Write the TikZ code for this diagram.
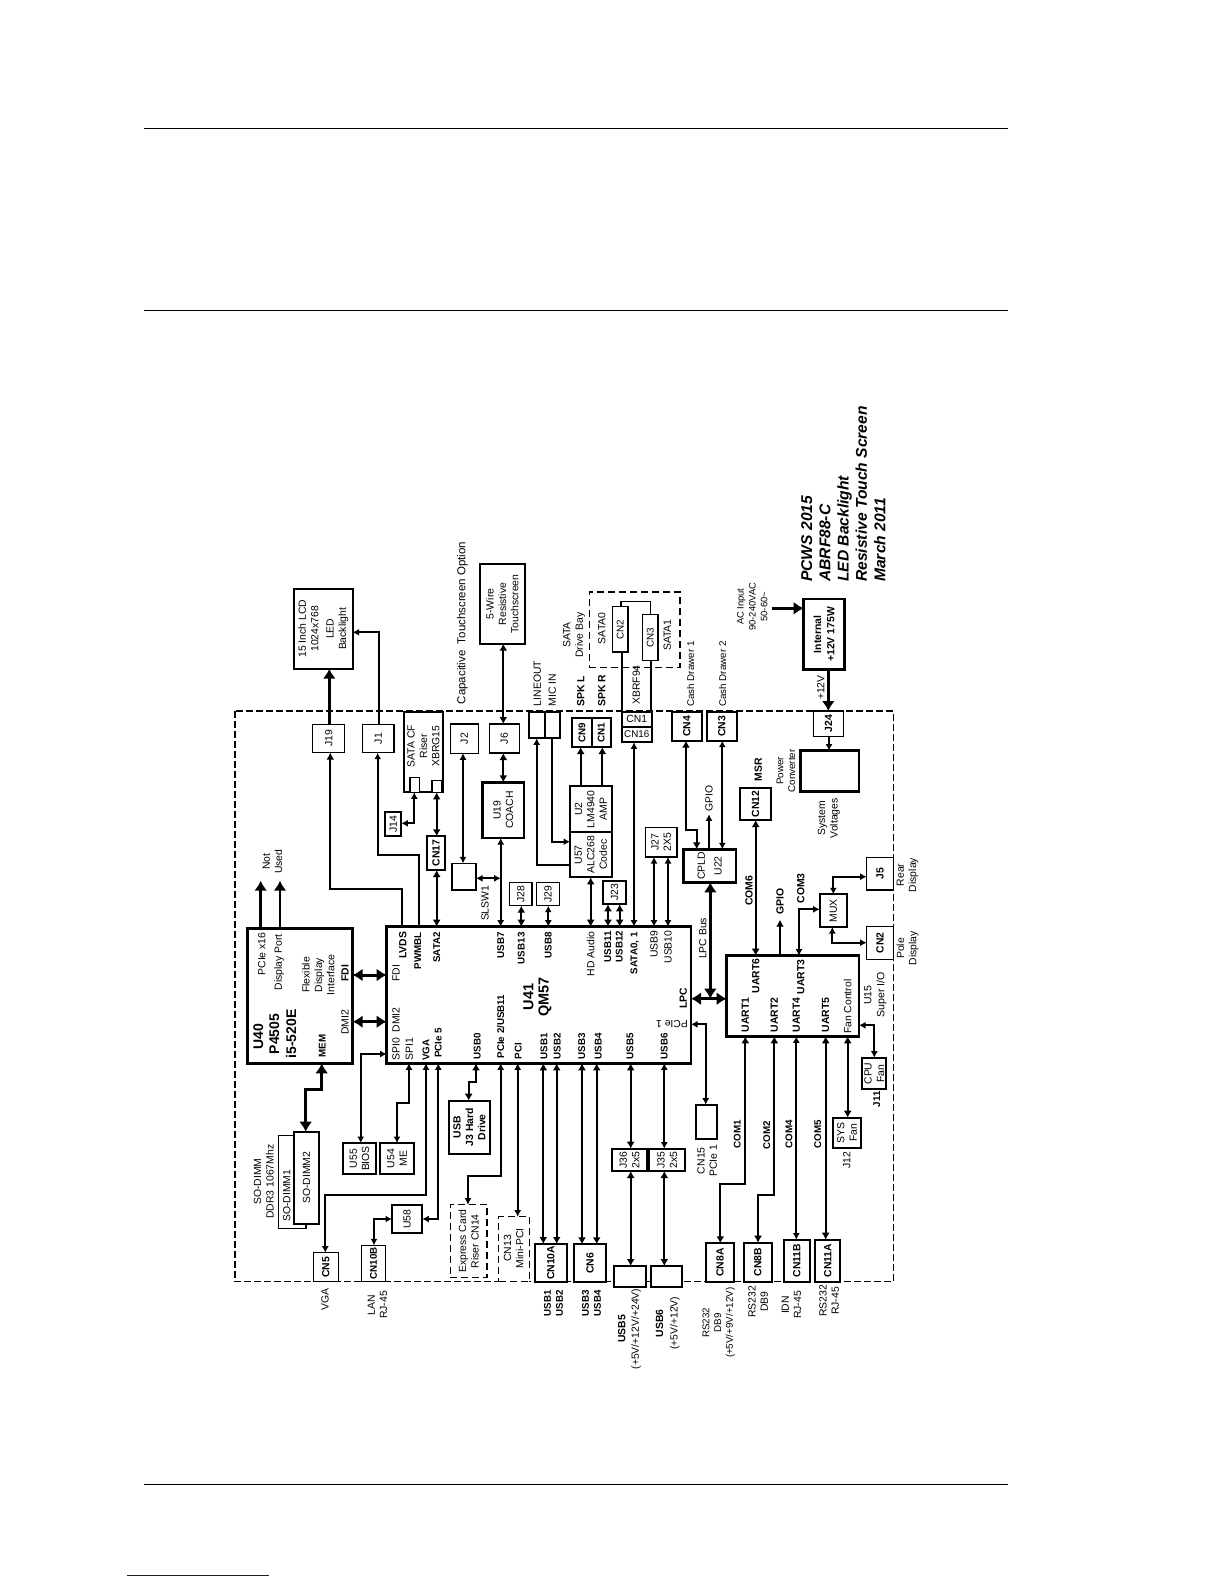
\documentclass[tikz,border=0pt]{standalone}
\usepackage{fontspec}
\setmainfont{Liberation Sans}
\usetikzlibrary{arrows.meta,calc}
\definecolor{navyline}{RGB}{20,20,110}
\tikzset{
 txt/.style={align=center,inner sep=0pt,outer sep=0pt,text=black},
 lbl/.style={txt,rotate=90},
 r10/.style={font=\fontsize{10.4}{12.4}\selectfont},
 r9/.style={font=\fontsize{9.8}{11.8}\selectfont},
 b10/.style={font=\fontsize{10.4}{12.4}\selectfont\bfseries},
 b9/.style={font=\fontsize{9.8}{11.8}\selectfont\bfseries},
 r11/.style={font=\fontsize{11.5}{15.5}\selectfont},
 big/.style={font=\fontsize{14}{16.3}\selectfont\bfseries},
 bxa/.style={draw=black,fill=white,line width=1.5pt,inner sep=0pt,outer sep=0pt},
 bxb/.style={draw=black,fill=white,line width=2pt,inner sep=0pt,outer sep=0pt},
 bxc/.style={draw=black,fill=white,line width=2.8pt,inner sep=0pt,outer sep=0pt},
 bxd/.style={draw=black,fill=white,line width=1.4pt,dash pattern=on 7pt off 4pt,inner sep=0pt,outer sep=0pt},
 a1/.style={line width=1.7pt,-{Latex[length=6.5pt,width=7pt]}},
 a2/.style={line width=1.7pt,{Latex[length=6.5pt,width=7pt]}-{Latex[length=6.5pt,width=7pt]}},
 b1/.style={line width=2.2pt,-{Latex[length=7pt,width=8pt]}},
 b2/.style={line width=2.2pt,{Latex[length=7pt,width=8pt]}-{Latex[length=7pt,width=8pt]}},
 c1/.style={line width=3pt,-{Latex[length=10pt,width=13pt]}},
 c2/.style={line width=3pt,{Latex[length=10pt,width=13pt]}-{Latex[length=10pt,width=13pt]}},
 plain/.style={line width=2.2pt},
 thin1/.style={line width=1.3pt},
}
\newcommand{\mybox}[8][bxa]{%
 \pgfmathsetmacro\rcx{(#3+#5)/2}\pgfmathsetmacro\rcy{(#4+#6)/2}%
 \pgfmathsetmacro\rw{#5-#3}\pgfmathsetmacro\rh{#6-#4}%
 \node[#1,minimum width=\rw pt,minimum height=\rh pt] (#2) at (\rcx,\rcy) {};%
 \node[lbl,#7] (#2t) at (\rcx,\rcy) {#8};}
\newcommand{\myempty}[6][bxa]{%
 \pgfmathsetmacro\rcx{(#3+#5)/2}\pgfmathsetmacro\rcy{(#4+#6)/2}%
 \pgfmathsetmacro\rw{#5-#3}\pgfmathsetmacro\rh{#6-#4}%
 \node[#1,minimum width=\rw pt,minimum height=\rh pt] (#2) at (\rcx,\rcy) {};}
\newcommand{\mylab}[5][r10]{\node[lbl,#1] (#2) at (#3,#4) {#5};}
% vertical connector at x, from lower edge of upper node to upper edge of lower node
\newcommand{\myv}[4]{\coordinate (tmpc) at (#4,0); \draw[#1] (#2.south -| tmpc) -- (#3.north -| tmpc);}
% horizontal connector at y, from east edge of left node to west edge of right node
\newcommand{\myh}[4]{\coordinate (tmpc) at (0,#4); \draw[#1] (#2.east |- tmpc) -- (#3.west |- tmpc);}
\begin{document}
\begin{tikzpicture}[x=1pt,y=-1pt]
\useasboundingbox (0,0) rectangle (1224,1584);
\fill[white] (0,0) rectangle (1224,1584);
% page rules
\coordinate (r1a) at (144,128.3); \coordinate (r1b) at (1008,128.3);
\coordinate (r2a) at (144,310.3); \coordinate (r2b) at (1008,310.3);
\coordinate (r3a) at (144,1484.3); \coordinate (r3b) at (1008,1484.3);
\coordinate (r4a) at (127,1575.3); \coordinate (r4b) at (269,1575.3);
\draw[line width=1.1pt] (r1a) -- (r1b);
\draw[line width=1.1pt] (r2a) -- (r2b);
\draw[line width=1.1pt] (r3a) -- (r3b);
\draw[line width=1.1pt,navyline] (r4a) -- (r4b);
% outer dashed frame
\draw[line width=1.4pt,dash pattern=on 7pt off 3pt] (235,711) rectangle (893.3,1281.7);
% boxes
\mybox[bxb]{LCD}{294}{589}{352.7}{668.7}{r10}{15 Inch LCD\\1024x768\\[3pt]LED\\Backlight}
\mybox{J19}{312.7}{724.3}{344.7}{752.7}{r10}{J19}
\mybox{J1}{362.7}{724.3}{394}{752.7}{r10}{J1}
\myempty[bxb]{Riser}{404}{712}{442.7}{792.3}
\myempty[bxa]{RiserA}{410}{777.7}{419.3}{792.3}
\myempty[bxa]{RiserB}{432}{780.7}{441.7}{792.3}
\mylab[r10]{RiserT}{423.5}{746}{SATA CF\\Riser\\XBRG15}
\mybox{J2}{450.3}{724}{478.3}{753.3}{r10}{J2}
\mybox{J6}{489.3}{724}{519.3}{753}{r10}{J6}
\mybox[bxb]{Wire}{479.7}{564.3}{525}{643.7}{r10}{5-Wire\\Resistive\\Touchscreen}
\myempty[bxb]{LineBox}{529}{711.7}{545}{738.3}
\myempty[bxb]{MicBox}{545}{711.7}{560}{738.3}
\mybox[bxb]{CNnine}{572.3}{717.7}{591.7}{747}{b9}{CN9}
\mybox[bxb]{CNone}{591.7}{717.7}{610.7}{747}{b9}{CN1}
\myempty[bxd]{Bay}{589.3}{592}{680}{667.7}
\mybox{CNtwo}{612.3}{606.7}{628}{652}{r9}{CN2}
\mybox{CNthree}{642.7}{614.7}{658}{660.3}{r9}{CN3}
\myempty[bxb]{CNoneb}{621.7}{711.7}{651.7}{726.7}
\myempty[bxb]{CNsixteen}{621.7}{726.7}{651.7}{742.3}
\node[txt,r10] (CNoneL) at (636.7,719.2) {CN1};
\node[txt,r9] (CNsixteenL) at (636.7,734.5) {CN16};
\mybox[bxb]{CNfour}{672}{711.7}{701.7}{740.7}{b10}{CN4}
\mybox[bxb]{CNthreeb}{706.7}{711.7}{736.7}{740.7}{b10}{CN3}
\mybox{Jtwentyfour}{813.7}{711}{843.3}{736.7}{b10}{J24}
\mybox[bxc]{Internal}{803.7}{599}{844.3}{669.7}{b10}{Internal\\[1pt]+12V 175W}
\myempty[bxc]{Conv}{800.7}{750.7}{859}{791.3}
\mybox[bxb]{CNtwelve}{740.3}{788}{770.7}{820}{b10}{CN12}
\mybox[bxb]{Utwo}{570}{786.3}{611.7}{832.3}{r10}{U2\\LM4940\\AMP}
\mybox[bxb]{Ufiftyseven}{570}{832.3}{611.7}{877.3}{r10}{U57\\ALC268\\Codec}
\mybox[bxa]{Jtwentyseven}{645.3}{827.7}{677}{857}{r10}{J27\\2X5}
\mybox[bxc]{CPLD}{683.3}{849.3}{736}{882.3}{font=\fontsize{10.4}{16.7}\selectfont}{CPLD\\U22}
\mybox[bxb]{Jtwentythree}{602.7}{880.7}{626.3}{904.3}{r10}{J23}
\myempty[bxc]{Ufifteen}{726.7}{955.7}{859}{1036.3}
\myempty[bxc]{Ufortyone}{386.7}{926.7}{691}{1063.3}
\myempty[bxc]{Uforty}{247.3}{928.3}{352.7}{1063.3}
\mybox{Jfive}{866.7}{857.7}{893.3}{890}{b10}{J5}
\mybox{CNtwob}{866.7}{926.3}{893.3}{959.3}{b10}{CN2}
\mybox[bxb]{MUX}{819.7}{894.3}{847}{927}{r10}{MUX}
\mybox[bxb]{Jfourteen}{385.3}{812}{401.3}{835.7}{r10}{J14}
\mybox[bxb]{CNseventeen}{426.7}{836.3}{445.3}{870}{b10}{CN17}
\myempty[bxa]{Switch}{452}{863.3}{476}{890}
\mybox[bxc]{Unineteen}{482.7}{782.3}{524}{838}{r10}{U19\\COACH}
\mybox{Jtwentyeight}{509.7}{882.7}{532}{905.7}{r10}{J28}
\mybox{Jtwentynine}{536.7}{882.7}{559.3}{905.7}{r10}{J29}
\myempty[bxa]{DIMMone}{278.7}{1135.3}{306}{1228.7}
\mybox[bxb]{DIMMtwo}{294}{1131.7}{319}{1224}{r10}{SO-DIMM2}
\mybox[bxb]{Ufiftyfive}{343}{1143}{376}{1174}{r10}{U55\\BIOS}
\mybox[bxb]{Ufiftyfour}{380}{1143}{414}{1174}{r10}{U54\\ME}
\mybox[bxb]{JthreeBox}{449}{1100.7}{490}{1154}{b10}{USB\\J3 Hard\\Drive}
\mybox[bxb]{Ufiftyeight}{392}{1205.3}{422.3}{1233.3}{r10}{U58}
\mybox{CNfive}{313.3}{1252.7}{338.3}{1281.7}{b10}{CN5}
\mybox{CNtenb}{361.3}{1245.3}{385.7}{1281.7}{b9}{CN10B}
\mybox[bxd]{Express}{450.3}{1204.7}{487}{1277.7}{r10}{Express Card\\Riser CN14}
\myempty[bxd]{MiniPCI}{498.7}{1216.7}{529.3}{1281.7}
\mybox[bxb]{CNtena}{535}{1244}{566.7}{1281.7}{b10}{CN10A}
\mybox[bxb]{CNsix}{574.3}{1244.3}{605.7}{1282.3}{b10}{CN6}
\myempty[bxb]{USBfiveBox}{613.7}{1266}{646}{1286.7}
\myempty[bxb]{USBsixBox}{650.7}{1266}{682.3}{1286.7}
\mybox[bxb]{Jthirtysix}{611.7}{1148.7}{647.3}{1171}{r10}{J36\\2x5}
\mybox[bxb]{Jthirtyfive}{649.3}{1148.7}{685.3}{1171}{r10}{J35\\2x5}
\myempty[bxb]{CNfifteen}{696}{1104.7}{717.3}{1139}
\mybox[bxb]{CNeighta}{705.7}{1243.3}{734.3}{1281.7}{b10}{CN8A}
\mybox[bxb]{CNeightb}{743.7}{1242.7}{772}{1281.7}{b10}{CN8B}
\mybox[bxb]{CNelevenb}{783.7}{1239.7}{809.7}{1281.7}{b10}{CN11B}
\mybox[bxb]{CNelevena}{815.3}{1239.7}{840.3}{1281.7}{b10}{CN11A}
\mybox[bxb]{SYSFan}{832.7}{1117.7}{861.3}{1148.3}{r10}{SYS\\Fan}
\mybox[bxb]{CPUFan}{862.3}{1057.7}{886.3}{1089.3}{r10}{CPU\\Fan}
% connectors
\coordinate (jn) at (329.3,0);
\draw[c1] (J19.north -| jn) -- (LCD.south -| jn);
\coordinate (lv1) at (401.7,889); \coordinate (lv2) at (330.3,889);
\draw[b1] (Ufortyone.north -| lv1) -- (lv1) -- (lv2) -- (J19.south -| lv2);
\coordinate (j1a) at (379,632.3);
\draw[a1] (J1.north -| j1a) -- (j1a) -- (LCD.east |- j1a);
\coordinate (pw1) at (418.7,855); \coordinate (pw2) at (377.7,855);
\draw[a1] (Ufortyone.north -| pw1) -- (pw1) -- (pw2) -- (J1.south -| pw2);
\myv{b2}{CNseventeen}{Ufortyone}{436.7}
\myv{b2}{RiserB}{CNseventeen}{436.7}
\coordinate (j14) at (414.3,823.3);
\draw[a2] (RiserA.south -| j14) -- (j14) -- (Jfourteen.east |- j14);
\myv{a2}{J2}{Switch}{463}
\myv{b2}{Wire}{J6}{503.3}
\myv{b2}{J6}{Unineteen}{503.3}
\myv{a2}{Unineteen}{Ufortyone}{500.7}
\coordinate (sw) at (500.7,878.3);
\draw[a2] (Switch.east |- sw) -- (sw);
\myv{b2}{Jtwentyeight}{Ufortyone}{521.3}
\myv{a2}{Jtwentynine}{Ufortyone}{548.3}
\coordinate (li1) at (536.7,864.7);
\draw[a1] (Ufiftyseven.west |- li1) -- (li1) -- (LineBox.south -| li1);
\coordinate (mi1) at (552.3,841.7);
\draw[a1] (MicBox.south -| mi1) -- (mi1) -- (Ufiftyseven.west |- mi1);
\coordinate (cn9) at (580.7,0); \draw[b1] (Utwo.north -| cn9) -- (CNnine.south -| cn9);
\coordinate (cn1) at (602.3,0); \draw[b1] (Utwo.north -| cn1) -- (CNone.south -| cn1);
\myv{a2}{CNsixteen}{Ufortyone}{634}
\myv{b2}{Ufiftyseven}{Ufortyone}{590.7}
\myv{b2}{Jtwentythree}{Ufortyone}{608}
\myv{b2}{Jtwentythree}{Ufortyone}{619.7}
\myv{a2}{Jtwentyseven}{Ufortyone}{654}
\myv{a2}{Jtwentyseven}{Ufortyone}{668}
% SATA bay wires
\coordinate (st1) at (621.7,0); \coordinate (st2) at (651.2,0);
\draw[plain] (CNoneb.north -| st1) -- (CNtwo.south -| st1);
\draw[plain] (CNoneb.north -| st2) -- (CNthree.south -| st2);
\coordinate (lk1) at (621,601.3); \coordinate (lk2) at (650.7,601.3);
\draw[thin1] (CNtwo.north -| lk1) -- (lk1) -- (lk2) -- (CNthree.north -| lk2);
% CPLD
\coordinate (cd1) at (686,830); \coordinate (cd2) at (696.7,830);
\draw[b2] (CNfour.south -| cd1) -- (cd1) -- (cd2) -- (CPLD.north -| cd2);
\coordinate (gp1) at (709,814.3);
\draw[a1] (CPLD.north -| gp1) -- (gp1);
\myv{a2}{CNthreeb}{CPLD}{722.3}
\coordinate (lp1) at (710.3,998.7);
\draw[c2] (CPLD.south -| lp1) -- (lp1);
\myh{c2}{Ufortyone}{Ufifteen}{998.7}
\myv{b2}{CNtwelve}{Ufifteen}{755.7}
\coordinate (gp2) at (780,919.7);
\draw[b1] (Ufifteen.north -| gp2) -- (gp2);
\coordinate (cm3) at (799,909.3);
\draw[a2] (Ufifteen.north -| cm3) -- (cm3) -- (MUX.west |- cm3);
\coordinate (mx1) at (833.3,876.7);
\draw[a2] (MUX.north -| mx1) -- (mx1) -- (Jfive.west |- mx1);
\coordinate (mx2) at (832.3,942.7);
\draw[a2] (MUX.south -| mx2) -- (mx2) -- (CNtwob.west |- mx2);
% power
\myv{a1}{Jtwentyfour}{Conv}{829}
\myv{c1}{Internal}{Jtwentyfour}{828.3}
\coordinate (ac) at (771.7,608.3);
\draw[c1,line width=2.4pt] (ac) -- (Internal.west |- ac);
% lower U41 / U15 wires
\coordinate (pc1a) at (705.7,1024.3);
\draw[a2] (Ufortyone.east |- pc1a) -- (pc1a) -- (CNfifteen.north -| pc1a);
\coordinate (fc1) at (874.3,1025.3);
\draw[a2] (Ufifteen.east |- fc1) -- (fc1) -- (CPUFan.north -| fc1);
\myv{b2}{Ufifteen}{SYSFan}{847.7}
\myv{b2}{Ufifteen}{CNelevena}{825.7}
\myv{a2}{Ufifteen}{CNelevenb}{796.3}
\coordinate (u21) at (774.3,1195.3); \coordinate (u22) at (758,1195.3);
\draw[b2] (Ufifteen.south -| u21) -- (u21) -- (u22) -- (CNeightb.north -| u22);
\coordinate (u11) at (745.3,1184.3); \coordinate (u12) at (720.3,1184.3);
\draw[b2] (Ufifteen.south -| u11) -- (u11) -- (u12) -- (CNeighta.north -| u12);
\myv{a2}{Ufortyone}{Jthirtyfive}{664.3}
\myv{b2}{Jthirtyfive}{USBsixBox}{664.3}
\myv{b2}{Ufortyone}{Jthirtysix}{630.7}
\myv{b2}{Jthirtysix}{USBfiveBox}{630.7}
\myv{b2}{Ufortyone}{CNsix}{582}
\myv{b2}{Ufortyone}{CNsix}{596.7}
\myv{b2}{Ufortyone}{CNtena}{543.3}
\myv{b2}{Ufortyone}{CNtena}{556.7}
\myv{a2}{Ufortyone}{MiniPCI}{517.7}
\coordinate (p21) at (500.7,1175.7); \coordinate (p22) at (468,1175.7);
\draw[a2] (Ufortyone.south -| p21) -- (p21) -- (p22) -- (Express.north -| p22);
\coordinate (u01) at (476,1082.3); \coordinate (u02) at (468.7,1082.3);
\draw[b2] (Ufortyone.south -| u01) -- (u01) -- (u02) -- (JthreeBox.north -| u02);
\coordinate (p51) at (438.3,1219);
\draw[a2] (Ufortyone.south -| p51) -- (p51) -- (Ufiftyeight.east |- p51);
\coordinate (vg1) at (426,1195.3); \coordinate (vg2) at (325.3,1195.3);
\draw[a2] (Ufortyone.south -| vg1) -- (vg1) -- (vg2) -- (CNfive.north -| vg2);
\coordinate (sp1) at (409,1103.3); \coordinate (sp2) at (397,1103.3);
\draw[a2] (Ufortyone.south -| sp1) -- (sp1) -- (sp2) -- (Ufiftyfour.north -| sp2);
\coordinate (s01) at (360.7,1054);
\draw[a2] (Ufortyone.west |- s01) -- (s01) -- (Ufiftyfive.north -| s01);
\coordinate (lan1) at (374,1219);
\draw[a2] (Ufiftyeight.west |- lan1) -- (lan1) -- (CNtenb.north -| lan1);
\coordinate (dm1) at (321.7,1089.3); \coordinate (dm2) at (305.7,1089.3);
\draw[c2] (Uforty.south -| dm1) -- (dm1) -- (dm2) -- (DIMMtwo.north -| dm2);
\myh{c2}{Uforty}{Ufortyone}{975}
\myh{c2}{Uforty}{Ufortyone}{1021.7}
\coordinate (nu1) at (260.7,880.7); \coordinate (nu2) at (280,880.7);
\draw[c1,line width=2.6pt] (Uforty.north -| nu1) -- (nu1);
\draw[c1,line width=2.6pt] (Uforty.north -| nu2) -- (nu2);
% labels
\node[lbl,r11,anchor=center] (CapT) at (462.3,623) {Capacitive\ \ Touchscreen Option};
\node[lbl,r10,anchor=west] (LineT) at (537.3,706) {LINEOUT};
\node[lbl,r10,anchor=west] (MicT) at (552.3,706) {MIC IN};
\node[lbl,b10,anchor=west] (SpkL) at (580.7,706.7) {SPK L};
\node[lbl,b10,anchor=west] (SpkR) at (601.7,706.7) {SPK R};
\mylab[r10]{BayT}{574}{635}{SATA\\Drive Bay}
\mylab[r10]{SataZ}{601.7}{628.3}{SATA0}
\mylab[r10]{SataO}{667.3}{635}{SATA1}
\mylab[r10]{Xbr}{636.3}{685}{XBRF94}
\node[lbl,r9,anchor=west] (CashA) at (690.7,706.7) {Cash Drawer 1};
\node[lbl,r9,anchor=west] (CashB) at (722.7,706.7) {Cash Drawer 2};
\mylab[font=\fontsize{9.4}{11.8}\selectfont]{ACT}{752.3}{606.7}{AC Input\\90-240VAC\\50-60\textasciitilde}
\mylab[r10]{Plus}{820.7}{687.7}{+12V}
\node[lbl,font=\fontsize{15.6}{18.3}\selectfont\bfseries\itshape,align=left,anchor=west] (Title) at (843.3,581.7) {PCWS 2015\\ABRF88-C\\LED Backlight\\Resistive Touch Screen\\March 2011};
\mylab[r9]{PowT}{786}{771}{Power\\Converter}
\mylab[b10]{MsrT}{758.3}{770}{MSR}
\mylab[r10]{SysT}{828.8}{818.3}{System\\Voltages}
\mylab[r10]{GpA}{709}{798.3}{GPIO}
\mylab[b10]{ComS}{749}{890.7}{COM6}
\mylab[b10]{GpB}{780}{901.7}{GPIO}
\mylab[b10]{ComT}{800.7}{888.3}{COM3}
\mylab[r10]{LpcB}{702.7}{938.3}{LPC Bus}
\mylab[r10]{RearT}{907.5}{875}{Rear\\Display}
\mylab[r10]{PoleT}{907.5}{948.3}{Pole\\Display}
\mylab[font=\fontsize{10.6}{12.8}\selectfont]{SupT}{875.3}{995}{U15\\Super I/O}
% U15 pins
\mylab[b10]{UaS}{755.7}{976}{UART6}
\mylab[b10]{UaT}{800.7}{977}{UART3}
\mylab[b10]{UaA}{745.3}{1015}{UART1}
\mylab[b10]{UaB}{774.3}{1015}{UART2}
\mylab[b10]{UaD}{796.3}{1015}{UART4}
\mylab[b10]{UaE}{825.7}{1015}{UART5}
\mylab[r10]{FanC}{847.7}{1006.7}{Fan Control}
% U41 pins
\mylab[b10]{Lvds}{402.7}{945.3}{LVDS}
\mylab[b9]{Pwm}{417.7}{950.7}{PWMBL}
\mylab[b9]{SatT}{436.7}{947.3}{SATA2}
\mylab[r10]{FdiB}{396}{973.3}{FDI}
\mylab[r10]{DmiB}{396}{1020}{DMI2}
\mylab[r10]{SpiZ}{396}{1049}{SPI0}
\mylab[r10]{SpiO}{409.3}{1049}{SPI1}
\mylab[b9]{VgaP}{426}{1050}{VGA}
\mylab[b9]{PciF}{438.3}{1043}{PCIe 5}
\mylab[b9]{UsbZ}{477.3}{1046}{USB0}
\mylab[b9]{PciT}{500.7}{1026.6}{PCIe 2/USB11}
\mylab[b9]{PciP}{518.3}{1051}{PCI}
\mylab[b9]{UsbA}{544}{1046}{USB1}
\mylab[b9]{UsbB}{557.3}{1046}{USB2}
\mylab[b9]{UsbC}{581.7}{1046}{USB3}
\mylab[b9]{UsbD}{598.3}{1046}{USB4}
\mylab[b9]{UsbE}{630}{1046}{USB5}
\mylab[b9]{UsbF}{664.3}{1046}{USB6}
\mylab[b9]{UsbG}{500.7}{945}{USB7}
\mylab[b9]{UsbM}{521.3}{948.3}{USB13}
\mylab[b9]{UsbH}{548.3}{945}{USB8}
\mylab[r10]{HdA}{590.7}{954}{HD Audio}
\mylab[b9]{UsbK}{607.7}{946.7}{USB11}
\mylab[b9]{UsbL}{619.3}{946.7}{USB12}
\mylab[b9]{SatZ}{634.7}{953.3}{SATA0, 1}
\mylab[r10]{UsbI}{654}{944}{USB9}
\mylab[r10]{UsbJ}{668}{947}{USB10}
\mylab[b10]{LpcP}{683.3}{998.3}{LPC}
\node[txt,r10,rotate=180] (PciOne) at (672,1024.3) {PCIe 1};
\mylab[font=\fontsize{14.5}{15.2}\selectfont\bfseries]{Uft}{537.5}{996.7}{U41\\QM57}
% U40 pins
\mylab[big]{UfT}{258.3}{1036.7}{U40}
\mylab[big]{UfP}{274.3}{1034}{P4505}
\mylab[big]{UfI}{291}{1034}{i5-520E}
\mylab[b9]{MemT}{322.3}{1046}{MEM}
\mylab[r10]{DmiA}{345}{1022.3}{DMI2}
\mylab[b10]{FdiA}{345}{973.3}{FDI}
\mylab[r10]{PciX}{261.7}{954}{PCIe x16}
\mylab[r10]{DispP}{279.3}{962.3}{Display Port}
\mylab[r10]{FlexT}{318.3}{975}{Flexible\\Display\\Interface}
\mylab[r10]{NotU}{272.5}{861.7}{Not\\Used}
\mylab[r10]{Slsw}{485}{903.3}{SLSW1}
\mylab[r10]{SoOne}{286.7}{1195.7}{SO-DIMM1}
\mylab[r10]{SoBay}{263.8}{1181.7}{SO-DIMM\\DDR3 1067Mhz}
\mylab[r10]{MiniT}{513.7}{1248.3}{CN13\\Mini-PCI}
% outside / connector labels
\mylab[r10]{VgaO}{325}{1299.3}{VGA}
\mylab[r10]{LanO}{377.5}{1305}{LAN\\RJ-45}
\mylab[b9]{UsbO}{553.5}{1303.3}{USB1\\USB2}
\mylab[b9]{UsbP}{591.5}{1303.3}{USB3\\USB4}
\mylab[font=\fontsize{10.4}{13.6}\selectfont]{UsbQ}{629.5}{1329}{\textbf{USB5}\\(+5V/+12V/+24V)}
\mylab[font=\fontsize{10.4}{14.3}\selectfont]{UsbR}{667.8}{1323.3}{\textbf{USB6}\\(+5V/+12V)}
\mylab[r9]{RsA}{718.7}{1322.7}{RS232\\DB9\\(+5V/+9V/+12V)}
\mylab[r10]{RsB}{758.2}{1301.7}{RS232\\DB9}
\mylab[r10]{IdnT}{791.5}{1305}{IDN\\RJ-45}
\mylab[r10]{RsC}{829.2}{1301}{RS232\\RJ-45}
\mylab[b9]{ComA}{737.3}{1134}{COM1}
\mylab[b9]{ComB}{766.7}{1135}{COM2}
\mylab[b9]{ComD}{789}{1134}{COM4}
\mylab[b9]{ComE}{817.7}{1134}{COM5}
\mylab[r10]{CnF}{707.2}{1160.7}{CN15\\PCIe 1}
\mylab[b9]{JelT}{876.7}{1099.3}{J11}
\mylab[r10]{JtwT}{846.7}{1160}{J12}
\end{tikzpicture}
\end{document}
